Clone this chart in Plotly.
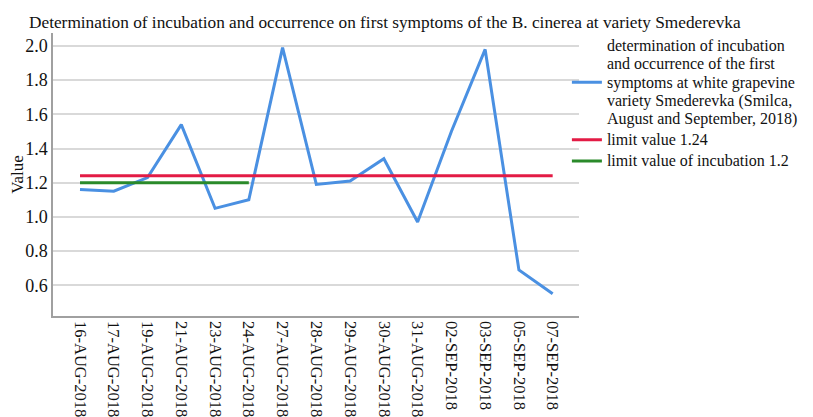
import plotly.graph_objects as go

dates = ["16-AUG-2018", "17-AUG-2018", "19-AUG-2018", "21-AUG-2018", "23-AUG-2018",
         "24-AUG-2018", "27-AUG-2018", "28-AUG-2018", "29-AUG-2018", "30-AUG-2018",
         "31-AUG-2018", "02-SEP-2018", "03-SEP-2018", "05-SEP-2018", "07-SEP-2018"]
symptoms = [1.16, 1.15, 1.23, 1.54, 1.05, 1.10, 1.99, 1.19, 1.21, 1.34, 0.97, 1.50, 1.98, 0.69, 0.55]
limit_value = [1.24] * len(dates)
incubation_dates = dates[:6]
incubation_limit = [1.2] * len(incubation_dates)

series_name_lines = ["determination of incubation", "and occurrence of the first",
                     "symptoms at white grapevine", "variety Smederevka (Smilca,",
                     "August and September, 2018)"]
limit_name = "limit value 1.24"
incubation_name = "limit value of incubation 1.2"

FONT = "Liberation Serif"
W, H = 813, 409
LEG_PX = 16


def leg_text(lines):
    return "<br>".join(f"<span style='font-size:{LEG_PX}px'>{t}</span>" for t in lines)


fig = go.Figure()
fig.add_trace(go.Scatter(
    x=dates, y=symptoms, mode="lines", name=leg_text(series_name_lines),
    line=dict(color="#4a90e2", width=3)))
fig.add_trace(go.Scatter(
    x=dates, y=limit_value, mode="lines", name=leg_text([limit_name]),
    line=dict(color="#e31b45", width=3)))
fig.add_trace(go.Scatter(
    x=incubation_dates, y=incubation_limit, mode="lines", name=leg_text([incubation_name]),
    line=dict(color="#2a8a2a", width=3)))

fig.update_layout(
    width=W, height=H,
    margin=dict(l=45, r=242, t=25, b=101, autoexpand=False),
    paper_bgcolor="white", plot_bgcolor="white",
    font=dict(family=FONT, size=17, color="#111"),
    title=dict(text="Determination of incubation and occurrence on first symptoms of the B. cinerea at variety Smederevka",
               x=21/W, xanchor="left", xref="container",
               y=1-14/H, yanchor="middle", yref="container",
               font=dict(family=FONT, size=17.3, color="#111")),
    showlegend=True,
    legend=dict(x=0.977, xanchor="left", y=1.01, yanchor="top",
                font=dict(family=FONT, size=14, color="#111"),
                bgcolor="rgba(0,0,0,0)", tracegroupgap=0, itemwidth=30),
    xaxis=dict(type="category", range=[-0.8, 14.78], tickangle=90, automargin=False,
               showgrid=False, showline=True, linecolor="#a0a0a0", linewidth=1.5,
               ticks="", tickfont=dict(family=FONT, size=16.5, color="#111")),
    yaxis=dict(range=[0.42, 2.076], dtick=0.2, tick0=0.6, tickformat=".1f", automargin=False,
               showgrid=True, gridcolor="#d9d9d9", gridwidth=1.5,
               showline=True, linecolor="#a0a0a0", linewidth=1.5,
               zeroline=False, ticks="",
               title=dict(text="Value", standoff=6, font=dict(family=FONT, size=17, color="#111")),
               tickfont=dict(family=FONT, size=18, color="#111")),
)

fig.write_html("out.html")
